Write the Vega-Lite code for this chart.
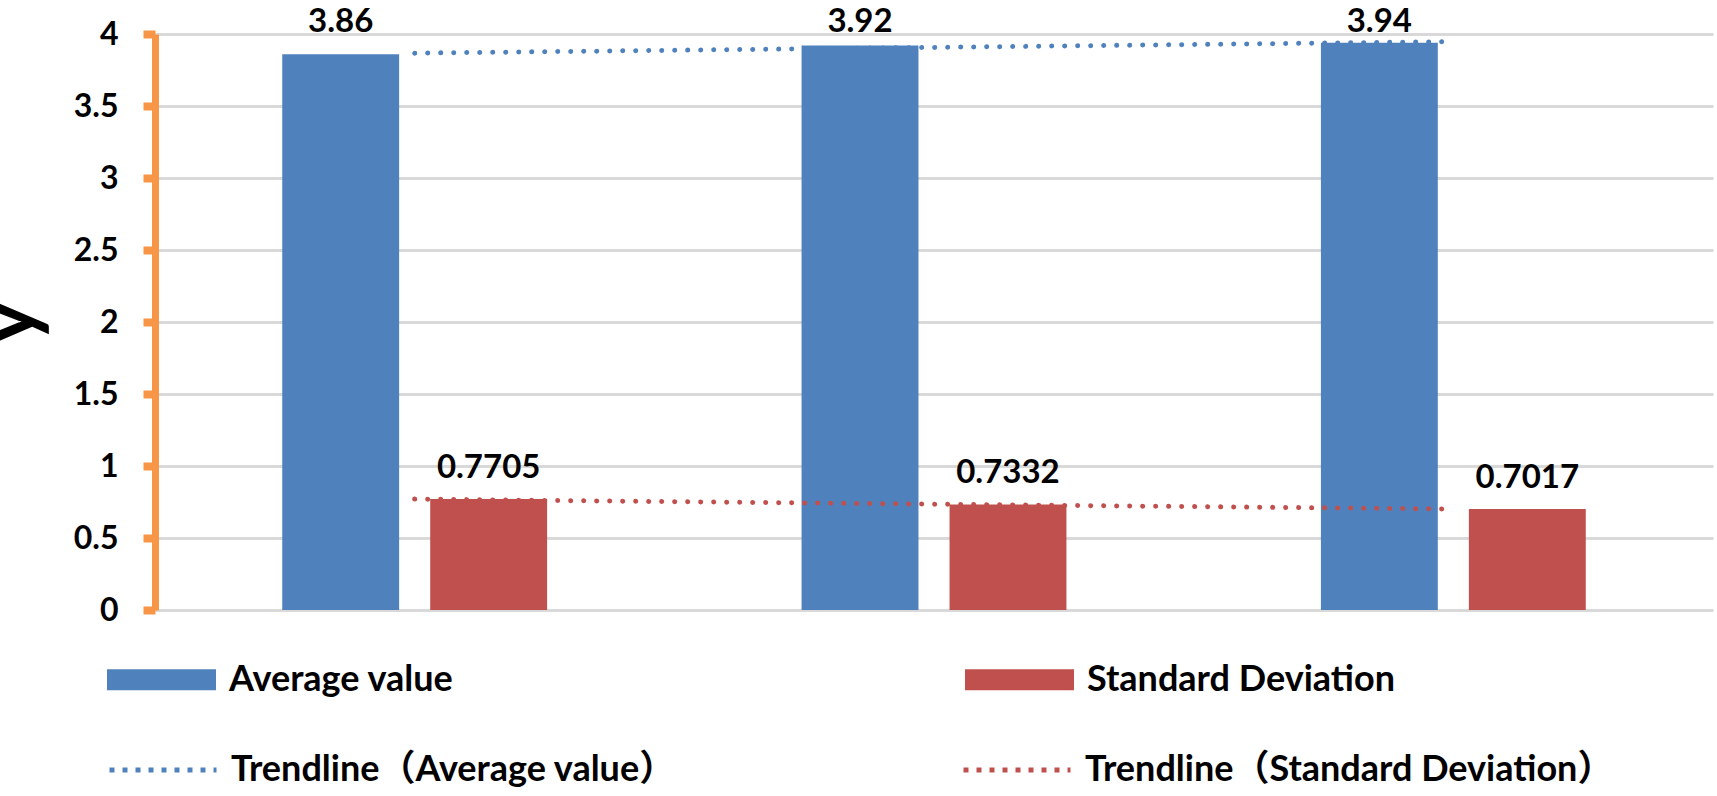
{
  "$schema": "https://vega.github.io/schema/vega-lite/v6.json",
  "width": 1558,
  "height": 576,
  "autosize": "none",
  "padding": {"left": 155, "top": 34, "right": 4, "bottom": 186},
  "background": "white",
  "datasets": {
    "bars": [
      {"group": "1", "series": "Average value", "value": 3.86},
      {"group": "1", "series": "Standard Deviation", "value": 0.7705},
      {"group": "2", "series": "Average value", "value": 3.92},
      {"group": "2", "series": "Standard Deviation", "value": 0.7332},
      {"group": "3", "series": "Average value", "value": 3.94},
      {"group": "3", "series": "Standard Deviation", "value": 0.7017}
    ],
    "trend": [
      {"group": "1", "trend": "Trendline（Average value）", "value": 3.867},
      {"group": "2", "trend": "Trendline（Average value）", "value": 3.907},
      {"group": "3", "trend": "Trendline（Average value）", "value": 3.947},
      {"group": "1", "trend": "Trendline（Standard Deviation）", "value": 0.770},
      {"group": "2", "trend": "Trendline（Standard Deviation）", "value": 0.735},
      {"group": "3", "trend": "Trendline（Standard Deviation）", "value": 0.701}
    ]
  },
  "encoding": {
    "x": {
      "field": "group",
      "type": "nominal",
      "scale": {"paddingInner": 0.49, "paddingOuter": 0.245},
      "axis": null
    },
    "y": {
      "field": "value",
      "type": "quantitative",
      "title": "y",
      "scale": {"domain": [0, 4], "nice": false},
      "axis": {
        "values": [0, 0.5, 1, 1.5, 2, 2.5, 3, 3.5, 4],
        "format": "~g",
        "grid": true,
        "gridColor": "#d9d9d9",
        "gridWidth": 3,
        "domainColor": "#f79646",
        "domainWidth": 7,
        "tickColor": "#f79646",
        "tickWidth": 8,
        "tickSize": 12,
        "labelPadding": 25,
        "labelFont": "Lato",
        "labelFontSize": 32,
        "labelFontWeight": "bold",
        "labelColor": "black",
        "titleFont": "Lato",
        "titleFontSize": 80,
        "titleFontWeight": "bold",
        "titleColor": "black",
        "titleAngle": 270,
        "titleAlign": "center",
        "titleBaseline": "alphabetic",
        "titleX": -121,
        "titleY": 288
      }
    }
  },
  "layer": [
    {
      "data": {"name": "bars"},
      "mark": {"type": "bar"},
      "encoding": {
        "xOffset": {"field": "series", "type": "nominal", "scale": {"paddingInner": 0.21, "paddingOuter": 0}},
        "color": {
          "field": "series",
          "type": "nominal",
          "scale": {"domain": ["Average value", "Standard Deviation"], "range": ["#4f81bd", "#c0504d"]},
          "legend": {
            "title": null,
            "orient": "none",
            "legendX": -48,
            "legendY": 591,
            "direction": "horizontal",
            "columns": 2,
            "columnPadding": 511,
            "padding": 0,
            "symbolType": "M-1,-0.193H1V0.193H-1Z",
            "symbolSize": 11881,
            "symbolStrokeWidth": 0,
            "labelOffset": 13,
            "labelLimit": 700,
            "labelFont": "Lato",
            "labelFontSize": 36,
            "labelFontWeight": "bold",
            "labelColor": "black"
          }
        }
      }
    },
    {
      "data": {"name": "bars"},
      "transform": [{"filter": "datum.series === 'Average value'"}],
      "mark": {"type": "text", "baseline": "alphabetic", "align": "center", "dy": -2, "font": "Lato", "fontSize": 33, "fontWeight": "bold", "color": "black"},
      "encoding": {
        "xOffset": {"field": "series", "type": "nominal", "scale": {"paddingInner": 0.21, "paddingOuter": 0}},
        "y": {"datum": 4},
        "text": {"field": "value", "type": "quantitative", "format": "~g"}
      }
    },
    {
      "data": {"name": "bars"},
      "transform": [{"filter": "datum.series === 'Standard Deviation'"}],
      "mark": {"type": "text", "baseline": "alphabetic", "align": "center", "dy": -21, "font": "Lato", "fontSize": 33, "fontWeight": "bold", "color": "black"},
      "encoding": {
        "xOffset": {"field": "series", "type": "nominal", "scale": {"paddingInner": 0.21, "paddingOuter": 0}},
        "text": {"field": "value", "type": "quantitative", "format": "~g"}
      }
    },
    {
      "data": {"name": "trend"},
      "mark": {"type": "line", "strokeWidth": 5, "strokeDash": [0.1, 12.9], "strokeCap": "round"},
      "encoding": {
        "stroke": {
          "field": "trend",
          "type": "nominal",
          "scale": {"domain": ["Trendline（Average value）", "Trendline（Standard Deviation）"], "range": ["#4f81bd", "#c0504d"]},
          "legend": {
            "title": null,
            "orient": "none",
            "legendX": -48,
            "legendY": 680,
            "direction": "horizontal",
            "columns": 2,
            "columnPadding": 276,
            "padding": 0,
            "symbolType": "stroke",
            "symbolSize": 11449,
            "symbolStrokeWidth": 5,
            "symbolDash": [5, 8],
            "labelOffset": 12,
            "labelLimit": 900,
            "labelFont": "Lato, Noto Sans CJK SC",
            "labelFontSize": 36,
            "labelFontWeight": "bold",
            "labelColor": "black"
          }
        }
      }
    }
  ],
  "config": {
    "view": {"stroke": null},
    "font": "Lato"
  }
}
